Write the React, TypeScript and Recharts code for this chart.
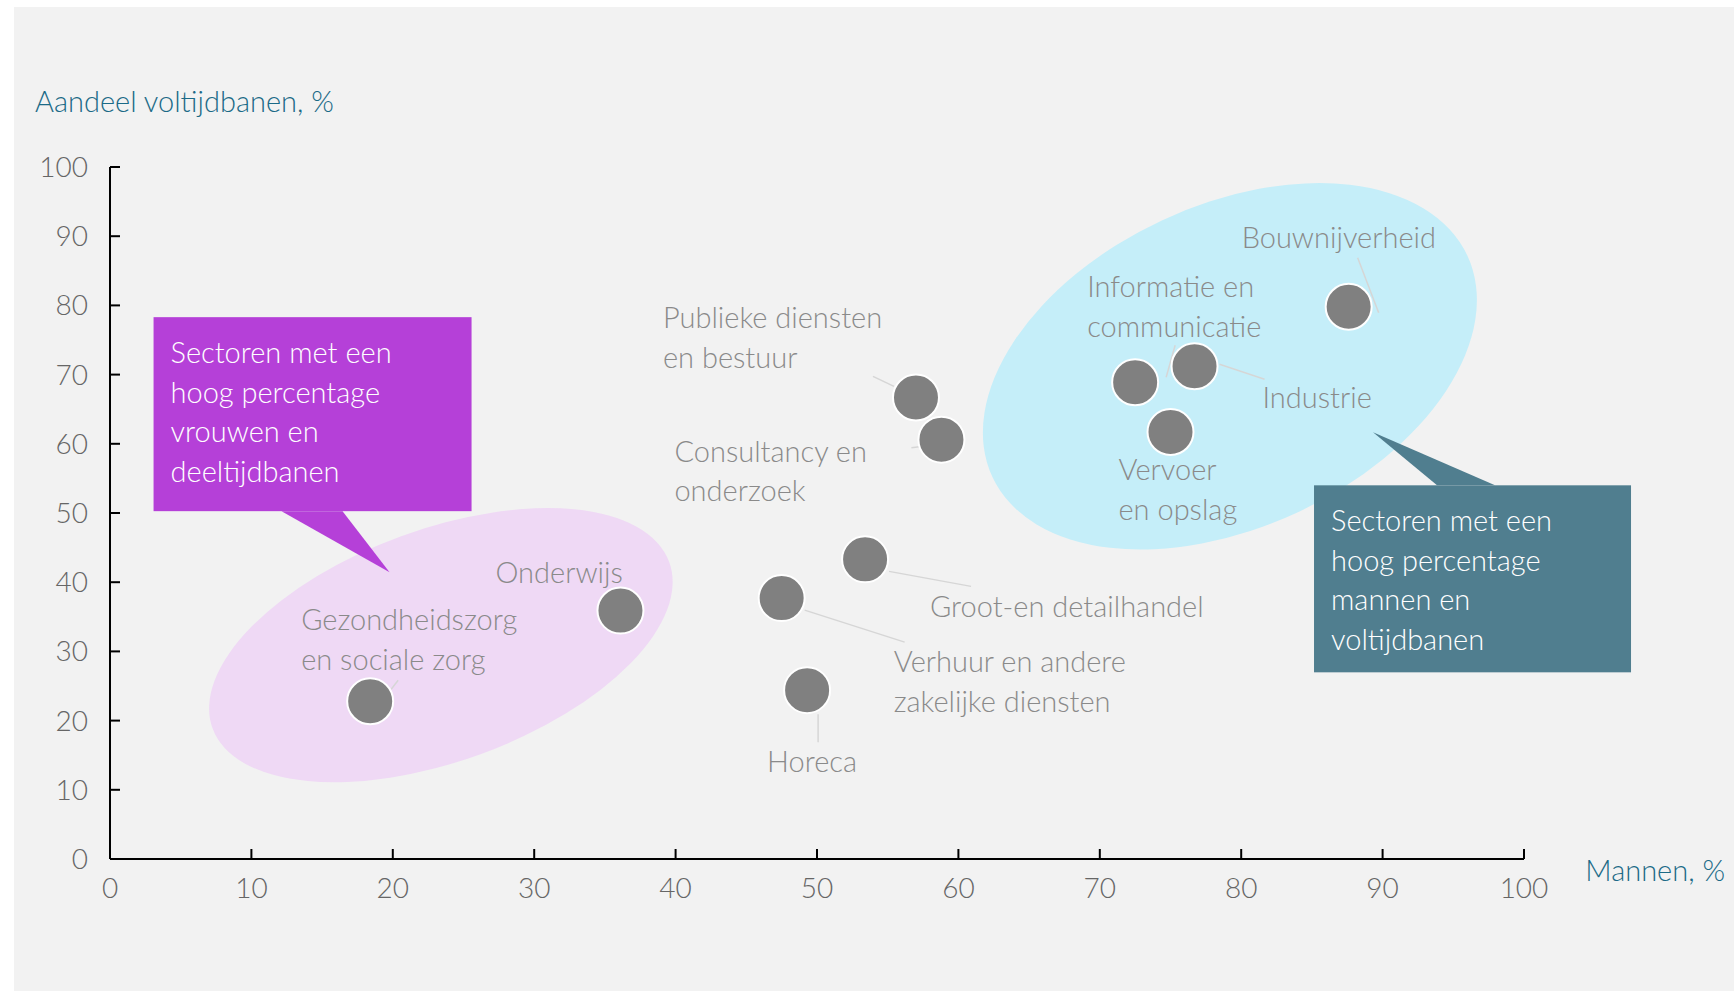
import React from 'react';
import { ScatterChart, Scatter, XAxis, YAxis, Customized } from 'recharts';

// ---------- data ----------
const sectors = [
  'Gezondheidszorg en sociale zorg',
  'Onderwijs',
  'Publieke diensten en bestuur',
  'Consultancy en onderzoek',
  'Groot-en detailhandel',
  'Verhuur en andere zakelijke diensten',
  'Horeca',
  'Informatie en communicatie',
  'Industrie',
  'Vervoer en opslag',
  'Bouwnijverheid',
];
const mannenPct = [18.4, 36.1, 57.0, 58.8, 53.4, 47.5, 49.3, 72.5, 76.7, 75.0, 87.6];
const voltijdPct = [22.8, 35.9, 66.7, 60.6, 43.3, 37.7, 24.4, 68.9, 71.2, 61.7, 79.8];
const labelLines = [
  ['Gezondheidszorg', 'en sociale zorg'],
  ['Onderwijs'],
  ['Publieke diensten', 'en bestuur'],
  ['Consultancy en', 'onderzoek'],
  ['Groot-en detailhandel'],
  ['Verhuur en andere', 'zakelijke diensten'],
  ['Horeca'],
  ['Informatie en', 'communicatie'],
  ['Industrie'],
  ['Vervoer', 'en opslag'],
  ['Bouwnijverheid'],
];
const xTicks = [0, 10, 20, 30, 40, 50, 60, 70, 80, 90, 100];
const yTicks = [0, 10, 20, 30, 40, 50, 60, 70, 80, 90, 100];

// group areas (centre in data units)
const groupNames = ['vrouwen', 'mannen'];
const groupCentreX = [23.4, 79.2];
const groupCentreY = [30.9, 71.2];

// callouts (top-left anchor in data units)
const calloutTexts = [
  ['Sectoren met een', 'hoog percentage', 'vrouwen en', 'deeltijdbanen'],
  ['Sectoren met een', 'hoog percentage', 'mannen en', 'voltijdbanen'],
];
const calloutX = [3.08, 85.15];
const calloutY = [78.3, 54.0];

// ---------- layout / styles (pixels) ----------
const FONT = 'Lato, "Open Sans", sans-serif';
const LABEL_COLOR = '#8a8a8a';
const LEADER_COLOR = '#d6d6d6';
const LINE_H = 39.5;

// label offsets relative to point centre: [dx, dy(first baseline)], leader [x1,y1,x2,y2]
const labelLayout: { d: [number, number]; leader?: [number, number, number, number] }[] = [
  { d: [-69, -71], leader: [28, -21, 21, -12] },
  { d: [-125, -28] },
  { d: [-253, -69], leader: [-43, -21, -22, -11] },
  { d: [-267, 22], leader: [-30, 8, -22, 7] },
  { d: [65, 58], leader: [24, 12, 106, 27] },
  { d: [112, 74], leader: [23, 12, 123, 44] },
  { d: [-40, 82], leader: [11, 24, 11, 52] },
  { d: [-48, -85], leader: [40, -37, 31, -5] },
  { d: [68, 42], leader: [25, -2, 70, 13] },
  { d: [-52, 48] },
  { d: [-107, -59], leader: [9, -49, 30, 6] },
];

const ellipseStyle = [
  { rx: 243, ry: 116, rot: -20, fill: '#efd9f5' },
  { rx: 262, ry: 161, rot: -25, fill: '#c5eef9' },
];

const calloutStyle = [
  { w: 318, h: 194, fill: '#b540d8', tail: [[128, 194], [189, 194], [236, 255]] },
  { w: 317, h: 187, fill: '#507e8f', tail: [[123, 0], [181, 0], [59, -53]] },
];

const points = sectors.map((s, i) => ({ name: s, x: mannenPct[i], y: voltijdPct[i], i }));
const groups = groupNames.map((g, i) => ({ name: g, x: groupCentreX[i], y: groupCentreY[i], i }));
const callouts = calloutTexts.map((t, i) => ({ x: calloutX[i], y: calloutY[i], i }));

const EllipseShape = (props: any) => {
  const { cx, cy, payload } = props;
  const st = ellipseStyle[payload.i];
  return (
    <ellipse
      cx={cx}
      cy={cy}
      rx={st.rx}
      ry={st.ry}
      fill={st.fill}
      transform={`rotate(${st.rot} ${cx} ${cy})`}
    />
  );
};

const CalloutShape = (props: any) => {
  const { cx, cy, payload } = props;
  const st = calloutStyle[payload.i];
  const pts = st.tail.map((p) => `${cx + p[0]},${cy + p[1]}`).join(' ');
  return (
    <g>
      <polygon points={pts} fill={st.fill} />
      <rect x={cx} y={cy} width={st.w} height={st.h} fill={st.fill} />
      <text x={cx + 17} y={cy + 46} fill="#ffffff" fontSize={29} fontFamily={FONT} fontWeight={300}>
        {calloutTexts[payload.i].map((l, k) => (
          <tspan key={k} x={cx + 17} y={cy + 46 + k * LINE_H}>
            {l}
          </tspan>
        ))}
      </text>
    </g>
  );
};

const PointShape = (props: any) => {
  const { cx, cy, payload } = props;
  const lay = labelLayout[payload.i];
  const lines = labelLines[payload.i];
  return (
    <g>
      {lay.leader && (
        <line
          x1={cx + lay.leader[0]}
          y1={cy + lay.leader[1]}
          x2={cx + lay.leader[2]}
          y2={cy + lay.leader[3]}
          stroke={LEADER_COLOR}
          strokeWidth={1.5}
        />
      )}
      <circle cx={cx} cy={cy} r={23} fill="#808080" stroke="#ffffff" strokeWidth={2} />
      <text fill={LABEL_COLOR} fontSize={29} fontFamily={FONT} fontWeight={300}>
        {lines.map((l, k) => (
          <tspan key={k} x={cx + lay.d[0]} y={cy + lay.d[1] + k * LINE_H}>
            {l}
          </tspan>
        ))}
      </text>
    </g>
  );
};

const Titles = () => (
  <g>
    <text x={35} y={112} fill="#1b6a87" fontSize={29} fontFamily={FONT} fontWeight={300}>
      Aandeel voltijdbanen, %
    </text>
    <text x={1725} y={881} textAnchor="end" fill="#1b6a87" fontSize={29} fontFamily={FONT} fontWeight={300}>
      Mannen, %
    </text>
  </g>
);

export default function App() {
  return (
    <div style={{ position: 'absolute', left: 0, top: 0, width: 1734, height: 992, overflow: 'hidden' }}>
      <div
        style={{ position: 'absolute', left: 14, top: 7, width: 1720, height: 984, background: '#f2f2f2' }}
      />
      <div style={{ position: 'absolute', left: 0, top: 0 }}>
        <ScatterChart
          width={1734}
          height={992}
          margin={{ top: 167, right: 210, bottom: 93, left: 50 }}
          style={{ fontFamily: FONT }}
        >
          <XAxis
            type="number"
            dataKey="x"
            domain={[0, 100]}
            ticks={xTicks}
            interval={0}
            height={40}
            axisLine={{ stroke: '#000', strokeWidth: 2 }}
            tickLine={{ stroke: '#000', strokeWidth: 2 }}
            tickSize={-10}
            tickMargin={29}
            tick={{ fill: '#666666', fontSize: 28, fontFamily: FONT, fontWeight: 300 }}
          />
          <YAxis
            type="number"
            dataKey="y"
            domain={[0, 100]}
            ticks={yTicks}
            interval={0}
            width={60}
            axisLine={{ stroke: '#000', strokeWidth: 2 }}
            tickLine={{ stroke: '#000', strokeWidth: 2 }}
            tickSize={-10}
            tickMargin={32}
            tick={{ fill: '#666666', fontSize: 28, fontFamily: FONT, fontWeight: 300 }}
          />
          <Scatter data={groups} shape={EllipseShape} isAnimationActive={false} />
          <Scatter data={callouts} shape={CalloutShape} isAnimationActive={false} />
          <Scatter data={points} shape={PointShape} isAnimationActive={false} />
          <Customized component={Titles} />
        </ScatterChart>
      </div>
    </div>
  );
}
